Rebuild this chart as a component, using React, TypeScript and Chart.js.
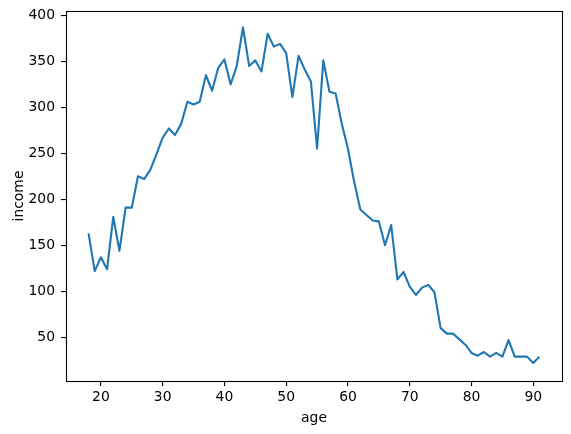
import React, { useEffect, useRef } from "react";
import { Chart, registerables } from "chart.js";

Chart.register(...registerables);

const ages: number[] = [
  18, 19, 20, 21, 22, 23, 24, 25, 26, 27, 28, 29, 30, 31, 32, 33, 34, 35, 36, 37,
  38, 39, 40, 41, 42, 43, 44, 45, 46, 47, 48, 49, 50, 51, 52, 53, 54, 55, 56, 57,
  58, 59, 60, 61, 62, 63, 64, 65, 66, 67, 68, 69, 70, 71, 72, 73, 74, 75, 76, 77,
  78, 79, 80, 81, 82, 83, 84, 85, 86, 87, 88, 89, 90, 91,
];

const income: number[] = [
  163, 122, 137, 124, 181, 144, 191, 191, 225, 222, 232, 249, 267, 277, 270, 282,
  306, 303, 306, 335, 318, 343, 352, 325, 345, 387, 345, 351, 339, 380, 366, 369,
  359, 311, 356, 341, 328, 255, 351, 317, 315, 282, 255, 219, 189, 183, 177, 176,
  150, 172, 113, 121, 105, 96, 104, 107, 99, 60, 54, 54, 48, 42, 33, 30, 34, 29,
  33, 29, 47, 29, 29, 29, 22, 29,
];

const xTicks: number[] = [20, 30, 40, 50, 60, 70, 80, 90];
const yTicks: number[] = [50, 100, 150, 200, 250, 300, 350, 400];

const FONT = "'DejaVu Sans', sans-serif";

const boxPlugin = {
  id: "boxPlugin",
  afterDraw(chart: any) {
    const { ctx, chartArea } = chart;
    ctx.save();
    ctx.strokeStyle = "#000";
    ctx.lineWidth = 1.1;
    ctx.strokeRect(
      Math.round(chartArea.left) + 0.5,
      Math.round(chartArea.top) + 0.5,
      Math.round(chartArea.right - chartArea.left),
      Math.round(chartArea.bottom - chartArea.top)
    );
    ctx.restore();
  },
};

export default function App() {
  const ref = useRef<HTMLCanvasElement | null>(null);

  useEffect(() => {
    if (!ref.current) return;
    const chart = new Chart(ref.current, {
      type: "line",
      data: {
        datasets: [
          {
            data: ages.map((a, i) => ({ x: a, y: income[i] })),
            borderColor: "#1f77b4",
            borderWidth: 2.1,
            pointRadius: 0,
            tension: 0,
            fill: false,
            borderJoinStyle: "round",
            borderCapStyle: "butt",
          },
        ],
      },
      options: {
        responsive: false,
        animation: false,
        events: [],
        layout: { padding: { left: 0, right: 9, top: 11, bottom: 0 } },
        plugins: { legend: { display: false }, tooltip: { enabled: false } },
        scales: {
          x: {
            type: "linear",
            min: 14.35,
            max: 94.65,
            afterBuildTicks: (s: any) => {
              s.ticks = xTicks.map((v) => ({ value: v }));
            },
            afterFit: (s: any) => {
              s.height = 53;
              s.paddingLeft = 0;
              s.paddingRight = 0;
            },
            grid: {
              display: true,
              drawOnChartArea: false,
              drawTicks: true,
              tickLength: 5,
              color: "#000",
              lineWidth: 1.1,
            },
            border: { display: false },
            ticks: {
              color: "#000",
              font: { family: FONT, size: 13.9 },
              padding: 3,
              maxRotation: 0,
              autoSkip: false,
            },
            title: {
              display: true,
              text: "age",
              color: "#000",
              font: { family: FONT, size: 13.9 },
              padding: { top: 0, bottom: 7.5 },
            },
          },
          y: {
            type: "linear",
            min: 2.5,
            max: 404.7,
            afterBuildTicks: (s: any) => {
              s.ticks = yTicks.map((v) => ({ value: v }));
            },
            afterFit: (s: any) => {
              s.width = 66;
              s.paddingTop = 0;
              s.paddingBottom = 0;
            },
            grid: {
              display: true,
              drawOnChartArea: false,
              drawTicks: true,
              tickLength: 5,
              color: "#000",
              lineWidth: 1.1,
            },
            border: { display: false },
            ticks: {
              color: "#000",
              font: { family: FONT, size: 13.9 },
              padding: 6,
              autoSkip: false,
            },
            title: {
              display: true,
              text: "income",
              color: "#000",
              font: { family: FONT, size: 13.9 },
              padding: { top: 11, bottom: 0 },
            },
          },
        },
      },
      plugins: [boxPlugin],
    });
    return () => chart.destroy();
  }, []);

  return (
    <div style={{ position: "absolute", left: 0, top: 0, width: 571, height: 434, background: "#fff" }}>
      <canvas ref={ref} width={571} height={434} style={{ display: "block" }} />
    </div>
  );
}
